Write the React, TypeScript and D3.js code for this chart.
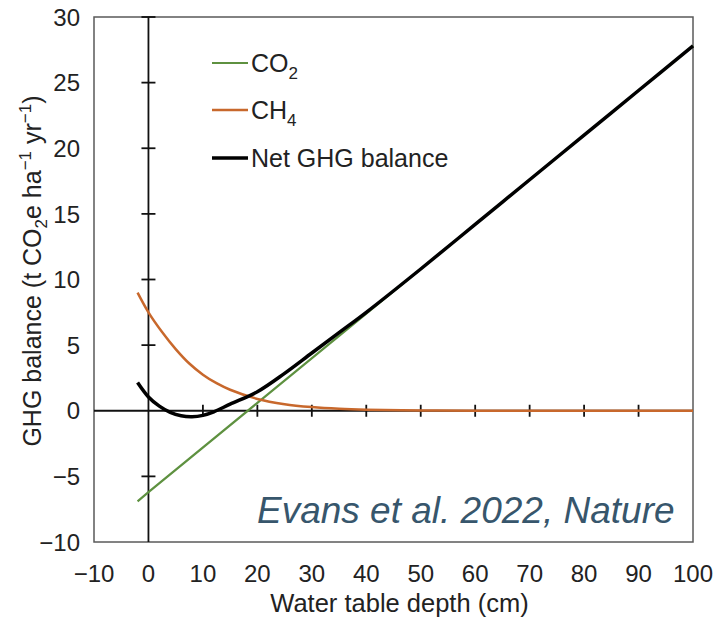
import React from 'react'
import * as d3 from 'd3'

// values (x = water table depth in cm)
const co2X = [-2, 0, 20, 40, 60, 80, 100]
const co2Y = [-6.9, -6.2, 0.6, 7.4, 14.2, 21.0, 27.8]

const ch4X = [-2, 0, 2.5, 5, 7.5, 10, 12.5, 15, 20, 25, 30, 35, 40, 50, 60, 100]
const ch4Y = [9.0, 7.5, 6.0, 4.7, 3.6, 2.75, 2.1, 1.6, 0.9, 0.5, 0.28, 0.15, 0.08, 0.02, 0, 0]

const netX = [-2, 0, 2, 4, 6, 8, 10, 12, 15, 20, 25, 30, 35, 40, 50, 60, 70, 80, 90, 100]
const netY = [2.15, 1.05, 0.35, -0.12, -0.38, -0.45, -0.35, -0.08, 0.5, 1.45, 2.85, 4.4, 5.95, 7.5, 10.8, 14.2, 17.6, 21.0, 24.4, 27.8]

const xTicks = [-10, 0, 10, 20, 30, 40, 50, 60, 70, 80, 90, 100]
const yTicks = [-10, -5, 0, 5, 10, 15, 20, 25, 30]

const FONT = '"Liberation Sans", Arial, Helvetica, sans-serif'
const GREEN = '#5e9140'
const ORANGE = '#c8682c'

export default function App() {
  const W = 716
  const H = 618
  const left = 94, right = 693, top = 17, bottom = 542

  const x = d3.scaleLinear().domain([-10, 100]).range([left, right])
  const y = d3.scaleLinear().domain([-10, 30]).range([bottom, top])

  const line = (xs: number[], ys: number[], curve: d3.CurveFactory) =>
    d3.line<number>()
      .x((d) => x(xs[d]))
      .y((d) => y(ys[d]))
      .curve(curve)(d3.range(xs.length)) as string

  const x0 = x(0)
  const y0 = y(0)

  const legend = [
    { color: GREEN, w: 2, label: 'CO', sub: '2' },
    { color: ORANGE, w: 2.5, label: 'CH', sub: '4' },
    { color: '#000', w: 3.5, label: 'Net GHG balance', sub: '' },
  ]
  const legendY = [63, 110, 158]

  return (
    <svg width={W} height={H} style={{ position: 'absolute', left: 0, top: 0, background: '#fff' }}
      fontFamily={FONT}>
      <rect x={0} y={0} width={W} height={H} fill="#fff" />

      {/* frame */}
      <rect x={left} y={top} width={right - left} height={bottom - top}
        fill="none" stroke="#5a5a5a" strokeWidth={1.5} />

      {/* zero axes */}
      <line x1={x0} x2={x0} y1={top} y2={bottom} stroke="#111" strokeWidth={1.8} />
      <line x1={left} x2={right} y1={y0} y2={y0} stroke="#111" strokeWidth={1.8} />
      {yTicks.filter((t) => t !== 0 && t !== -10).map((t) => (
        <line key={'yt' + t} x1={x0 - 7} x2={x0 + 7} y1={y(t)} y2={y(t)} stroke="#111" strokeWidth={1.8} />
      ))}
      {xTicks.filter((t) => t > 0 && t < 100).map((t) => (
        <line key={'xt' + t} x1={x(t)} x2={x(t)} y1={y0 - 6} y2={y0 + 6} stroke="#111" strokeWidth={1.8} />
      ))}

      {/* tick labels */}
      {yTicks.map((t) => (
        <text key={'yl' + t} x={80} y={y(t)} dy="0.36em" textAnchor="end" fontSize={24} fill="#222">
          {t < 0 ? '\u2212' + Math.abs(t) : t}
        </text>
      ))}
      {xTicks.map((t) => (
        <text key={'xl' + t} x={x(t)} y={582} textAnchor="middle" fontSize={24} fill="#222">
          {t < 0 ? '\u2212' + Math.abs(t) : t}
        </text>
      ))}

      {/* axis titles */}
      <text x={(left + right) / 2 + 6} y={612} textAnchor="middle" fontSize={25.5} fill="#222">
        Water table depth (cm)
      </text>
      <text transform={`translate(41, ${271}) rotate(-90)`} textAnchor="middle" fontSize={25} fill="#222">
        GHG balance (t CO<tspan fontSize={17} dy={6}>2</tspan>
        <tspan dy={-6}>e ha</tspan>
        <tspan fontSize={17} dy={-10}>{'\u22121'}</tspan>
        <tspan dy={10}> yr</tspan>
        <tspan fontSize={17} dy={-10}>{'\u22121'}</tspan>
        <tspan dy={10}>)</tspan>
      </text>

      {/* series */}
      <path d={line(co2X, co2Y, d3.curveLinear)} fill="none" stroke={GREEN} strokeWidth={2.2} />
      <path d={line(ch4X, ch4Y, d3.curveCatmullRom.alpha(0.5))} fill="none" stroke={ORANGE} strokeWidth={2.5} />
      <path d={line(netX, netY, d3.curveCatmullRom.alpha(0.5))} fill="none" stroke="#000" strokeWidth={3.5} />

      {/* legend */}
      {legend.map((d, i) => (
        <g key={d.label} transform={`translate(0, ${legendY[i]})`}>
          <line x1={212} x2={248} y1={0} y2={0} stroke={d.color} strokeWidth={d.w} />
          <text x={251} y={0} dy="0.36em" fontSize={25} fill="#222">
            {d.label}
            {d.sub && <tspan fontSize={17} dy={7}>{d.sub}</tspan>}
          </text>
        </g>
      ))}

      {/* citation */}
      <text x={257} y={523} fontSize={37} fontStyle="italic" fill="#37566c">
        Evans et al. 2022, Nature
      </text>
    </svg>
  )
}
